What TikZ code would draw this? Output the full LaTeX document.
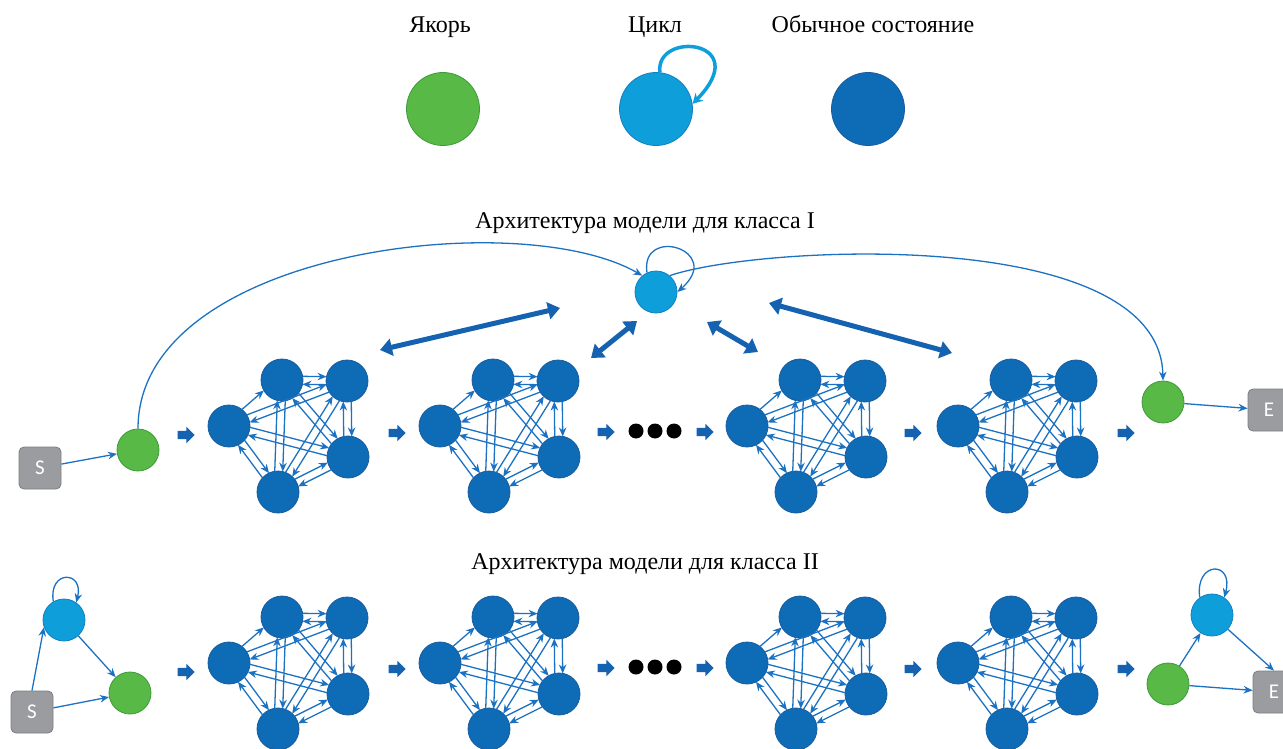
\documentclass[tikz,border=0pt]{standalone}
\usepackage{fontspec}
\setmainfont{Liberation Serif}
\newfontfamily\boxfont{Carlito}
\usetikzlibrary{arrows.meta,shapes.arrows,calc}
\definecolor{anch}{HTML}{58B947}
\definecolor{anchb}{HTML}{3E9A3A}
\definecolor{cyc}{HTML}{0E9FDB}
\definecolor{cycb}{HTML}{137FC0}
\definecolor{st}{HTML}{0E6BB6}
\definecolor{stb}{HTML}{1A5C9E}
\definecolor{edgec}{HTML}{1C72C2}
\definecolor{boxg}{HTML}{9A9C9F}
\definecolor{boxb}{HTML}{7B7D80}
\definecolor{bigc}{HTML}{1462B0}
\begin{document}
\begin{tikzpicture}[x=1pt,y=-1pt,
  anchornode/.style={circle,fill=anch,draw=anchb,line width=0.8pt,minimum size=42pt,inner sep=0pt},
  cyclenode/.style={circle,fill=cyc,draw=cycb,line width=0.8pt,minimum size=42pt,inner sep=0pt},
  statenode/.style={circle,fill=st,draw=stb,line width=0.8pt,minimum size=42pt,inner sep=0pt},
  termbox/.style={rectangle,rounded corners=5pt,fill=boxg,draw=boxb,line width=0.8pt,minimum size=42pt,inner sep=0pt,text=white,font=\boxfont\fontsize{21}{21}\selectfont},
  edge/.style={draw=edgec,line width=1.3pt,-{Stealth[length=9pt,width=7.5pt]}},
  inedge/.style={edge,shorten <=20.5pt,shorten >=20.5pt},
  flow/.style={single arrow,fill=bigc,inner xsep=0pt,inner ysep=4pt,minimum height=17pt,single arrow head extend=4pt},
  bigarrow/.style={draw=bigc,line width=5pt,{Triangle[length=12pt,width=17pt]}-{Triangle[length=12pt,width=17pt]}},
  dotnode/.style={circle,fill=black,minimum size=15pt,inner sep=0pt},
  title/.style={font=\fontsize{24}{27}\selectfont,inner sep=0pt,anchor=base}
]
\useasboundingbox (0,0) rectangle (1283,749);
\clip (0,0) rectangle (1283,749);

% legend
\node[title] (labA) at (440,33) {Якорь};
\node[title] (labC) at (655,33) {Цикл};
\node[title] (labS) at (873,33) {Обычное состояние};
\node[anchornode,minimum size=73pt] (legA) at (443,109) {};
\node[cyclenode,minimum size=73pt] (legC) at (656,109) {};
\node[statenode,minimum size=73pt] (legS) at (868,109) {};
\draw[draw=cyc,line width=3.5pt,-{Stealth[length=10pt,width=11pt]}] (legC.84) .. controls (655,30) and (755,40) .. (legC.8);

% titles
\node[title] (t1) at (645,229) {Архитектура модели для класса I};
\node[title] (t2) at (645,569) {Архитектура модели для класса II};

% clusters
\foreach \i/\x/\y in {1/229/426,2/440/426,3/747/426,4/958/426,5/229/663,6/440/663,7/747/663,8/958/663}{
  \node[statenode] (c\i-a) at (\x,\y) {};
  \node[statenode] (c\i-b) at (\x+53,\y-46) {};
  \node[statenode] (c\i-c) at (\x+118,\y-45) {};
  \node[statenode] (c\i-d) at (\x+119,\y+31) {};
  \node[statenode] (c\i-e) at (\x+49,\y+66) {};
  \foreach \p/\q in {a/b,b/c,c/b,a/c,c/a,a/d,d/a,a/e,e/a,b/d,d/b,b/e,e/b,c/d,d/c,c/e,e/c,d/e,e/d}
    \draw[inedge] ($(c\i-\p)!4pt!90:(c\i-\q)$) -- ($(c\i-\q)!4pt!-90:(c\i-\p)$);
}

% flow arrows and dots
\foreach \k/\x/\y in {1/184/435,2/395/433,3/604/432,4/703/432,5/911/433,6/1124/433,
                      7/184/672,8/395/669,9/604/668,10/703/668,11/911/669,12/1124/669}
  \node[flow] (f\k) at (\x,\y) {};
\foreach \k/\x/\y in {1/636/431,2/655/431,3/674/431,4/636/667,5/655/667,6/674/667}
  \node[dotnode] (d\k) at (\x,\y) {};

% class I
\node[termbox] (s1) at (40,468) {S};
\node[anchornode] (a1) at (138,450) {};
\node[cyclenode] (y1) at (656,292) {};
\node[anchornode] (a2) at (1163,402) {};
\node[termbox] (e1) at (1269,410) {E};
\draw[edge] (s1) -- (a1);
\draw[edge] (a1.north) .. controls (138,250) and (520,205) .. (y1.130);
\draw[edge] (y1.50) .. controls (760,245) and (1160,225) .. (a2.north);
\draw[edge] (y1.115) .. controls (640,225) and (725,250) .. (y1.0);
\draw[edge] (a2) -- (e1);

\coordinate (b1s) at (380,350); \coordinate (b1e) at (560,308);
\coordinate (b2s) at (591,358); \coordinate (b2e) at (637,321);
\coordinate (b3s) at (707,322); \coordinate (b3e) at (758,352);
\coordinate (b4s) at (769,303); \coordinate (b4e) at (952,353);
\draw[bigarrow] (b1s) -- (b1e);
\draw[bigarrow] (b2s) -- (b2e);
\draw[bigarrow] (b3s) -- (b3e);
\draw[bigarrow] (b4s) -- (b4e);

% class II
\node[cyclenode] (y2) at (64,620) {};
\node[anchornode] (a3) at (130,693) {};
\node[termbox] (s2) at (32,712) {S};
\draw[edge] (s2.north) -- (y2.200);
\draw[edge] (s2) -- (a3);
\draw[edge] (y2) -- (a3);
\draw[edge] (y2.120) .. controls +(-5,-32) and +(8,-32) .. (y2.55);

\node[anchornode] (a4) at (1168,684) {};
\node[cyclenode] (y3) at (1212,615) {};
\node[termbox] (e2) at (1274,692) {E};
\draw[edge] (a4) -- (y3);
\draw[edge] (y3) -- (e2.north);
\draw[edge] (a4) -- (e2);
\draw[edge] (y3.125) .. controls +(-5,-37) and +(10,-37) .. (y3.55);
\end{tikzpicture}
\end{document}
